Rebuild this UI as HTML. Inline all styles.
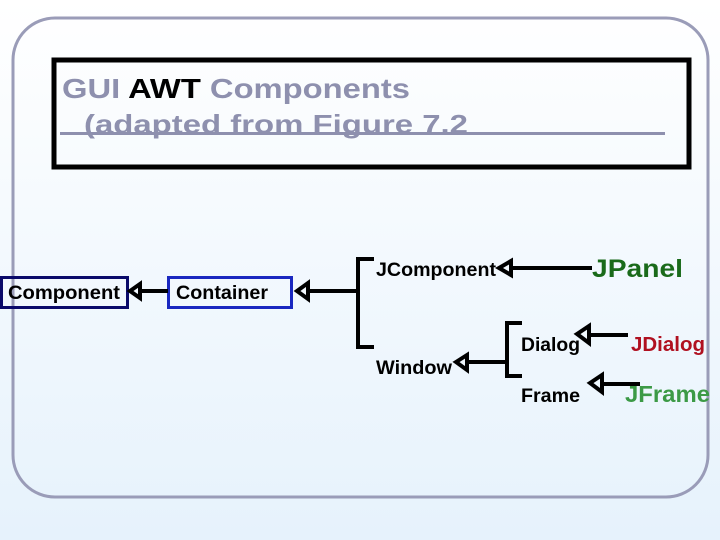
<!DOCTYPE html>
<html><head><meta charset="utf-8"><style>
html,body{margin:0;padding:0;width:720px;height:540px;overflow:hidden}
</style></head><body>
<svg width="720" height="540" xmlns="http://www.w3.org/2000/svg" font-family="Liberation Sans, sans-serif" font-weight="bold">
<defs><linearGradient id="g" x1="0" y1="0" x2="0" y2="1"><stop offset="0" stop-color="#ffffff"/><stop offset="1" stop-color="#e6f2fc"/></linearGradient></defs>
<rect width="720" height="540" fill="url(#g)"/>
<rect x="13" y="18" width="695" height="479" rx="42" fill="none" stroke="#9a9cb8" stroke-width="3"/>
<rect x="54" y="60" width="635" height="107" fill="none" stroke="#000" stroke-width="5"/>
<text x="62" y="98" font-size="28" fill="#8e90ae" textLength="348" lengthAdjust="spacingAndGlyphs">GUI <tspan fill="#000">AWT</tspan> Components</text>
<text x="84" y="133" font-size="26" fill="#8e90ae" textLength="384" lengthAdjust="spacingAndGlyphs">(adapted from Figure 7.2</text>
<rect x="60" y="132" width="605" height="3" fill="#8e90ae"/>
<g stroke="#000" stroke-width="4" fill="none">
<rect x="1.5" y="277.5" width="126" height="30" stroke="#0a0a6a" stroke-width="3"/>
<rect x="168.5" y="277.5" width="123" height="30" stroke="#1a28c0" stroke-width="3"/>
<path d="M130 291 L140 284 L140 298 Z"/><path d="M140 291 H168"/>
<path d="M297 291 L308 283 L308 299 Z"/><path d="M308 291 H358"/>
<path d="M374 259 H358 V347 H374"/>
<path d="M499 268 L511 261 L511 275 Z"/><path d="M511 268 H592"/>
<path d="M456 362 L467 355 L467 370 Z"/><path d="M467 362 H505"/>
<path d="M522 323 H507 V376 H522"/>
<path d="M577 334 L589 326 L589 343 Z"/><path d="M589 335 H628"/>
<path d="M590 383 L602 375 L602 392 Z"/><path d="M602 384 H640"/>
</g>
<g font-size="19" fill="#000">
<text x="8" y="299" textLength="112" lengthAdjust="spacingAndGlyphs">Component</text>
<text x="176" y="299" textLength="92" lengthAdjust="spacingAndGlyphs">Container</text>
<text x="376" y="276" textLength="120" lengthAdjust="spacingAndGlyphs">JComponent</text>
<text x="376" y="374" textLength="76" lengthAdjust="spacingAndGlyphs">Window</text>
<text x="521" y="351" textLength="59" lengthAdjust="spacingAndGlyphs">Dialog</text>
<text x="521" y="402" textLength="59" lengthAdjust="spacingAndGlyphs">Frame</text>
</g>
<text x="592" y="277" font-size="25" fill="#1a6a1a" textLength="91" lengthAdjust="spacingAndGlyphs">JPanel</text>
<text x="631" y="351" font-size="20" fill="#b01020" textLength="74" lengthAdjust="spacingAndGlyphs">JDialog</text>
<text x="625" y="402" font-size="23" fill="#3c9a46" textLength="85" lengthAdjust="spacingAndGlyphs">JFrame</text>
</svg>
</body></html>
